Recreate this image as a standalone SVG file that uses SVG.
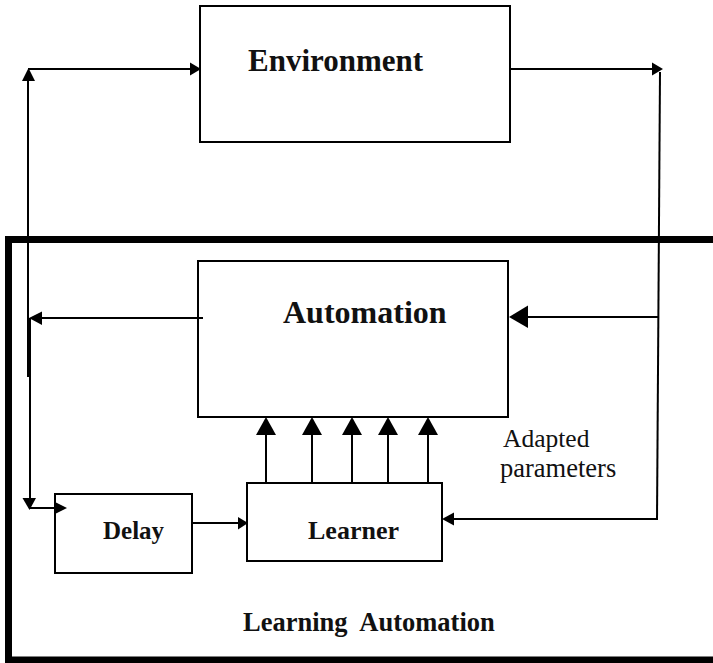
<svg xmlns="http://www.w3.org/2000/svg" width="713" height="663" viewBox="0 0 713 663">
<style>
.box{fill:none;stroke:#000;stroke-width:2}
.ln{fill:none;stroke:#000;stroke-width:2}
.ah{fill:#000;stroke:none}
.frame{fill:none;stroke:#000;stroke-width:7;stroke-linejoin:miter}
.b{font-family:"Liberation Serif","Times New Roman",serif;font-weight:bold;fill:#111}
.r{font-family:"Liberation Serif","Times New Roman",serif;fill:#111}
</style>
<rect width="713" height="663" fill="#fff"/>
<g id="frame">
<path class="frame" d="M713,239.5 H8.5 V660 H713"/>
<text class="b" x="243" y="631" font-size="26.5" style="white-space:pre">Learning  Automation</text>
</g>
<g id="environment">
<rect class="box" x="200" y="6" width="310" height="136"/>
<text class="b" x="248" y="71" font-size="31">Environment</text>
</g>
<g id="automation">
<rect class="box" x="198" y="261" width="310" height="156"/>
<text class="b" x="283" y="323" font-size="32">Automation</text>
</g>
<g id="delay">
<rect class="box" x="55" y="494" width="137" height="79"/>
<text class="b" x="103" y="539" font-size="25">Delay</text>
</g>
<g id="learner">
<rect class="box" x="247" y="483" width="195" height="78"/>
<text class="b" x="308" y="539" font-size="26">Learner</text>
</g>
<g id="label-adapted">
<text class="r" x="503" y="447" font-size="25.5">Adapted</text>
<text class="r" x="500" y="477" font-size="26.5">parameters</text>
</g>
<g id="connectors">
<path class="ln" d="M28,377 V80"/>
<polygon class="ah" points="28.5,68 22,81 35,81"/>
<path class="ln" d="M28,69 H191"/>
<polygon class="ah" points="201,69 190,62.5 190,75.5"/>
<path class="ln" d="M510,69 H653"/>
<polygon class="ah" points="663,69 652,62.5 652,75.5"/>
<path class="ln" d="M660,72 L657,520"/>
<path class="ln" d="M658,317 H527"/>
<polygon class="ah" points="509,317 528,305.5 528,328"/>
<path class="ln" d="M657,519 H453"/>
<polygon class="ah" points="442,519 454,512.5 454,525.5"/>
<path class="ln" d="M203,318 H41"/>
<polygon class="ah" points="29,318 42,311.5 42,325"/>
<path class="ln" d="M30,318 V499"/>
<polygon class="ah" points="29.5,510 22.5,498 36,498"/>
<path class="ln" d="M29,508 H56"/>
<polygon class="ah" points="67,508 55,502 55,514"/>
<path class="ln" d="M192,523 H239"/>
<polygon class="ah" points="248,523 238,517 238,529.5"/>
<path class="ln" d="M266,483 V434 M312,483 V434 M352,483 V434 M388,483 V434 M428,483 V434"/>
<polygon class="ah" points="266,417 256,435 276,435"/>
<polygon class="ah" points="312,417 302,435 322,435"/>
<polygon class="ah" points="352,417 342,435 362,435"/>
<polygon class="ah" points="388,417 378,435 398,435"/>
<polygon class="ah" points="428,417 418,435 438,435"/>
</g>
</svg>
